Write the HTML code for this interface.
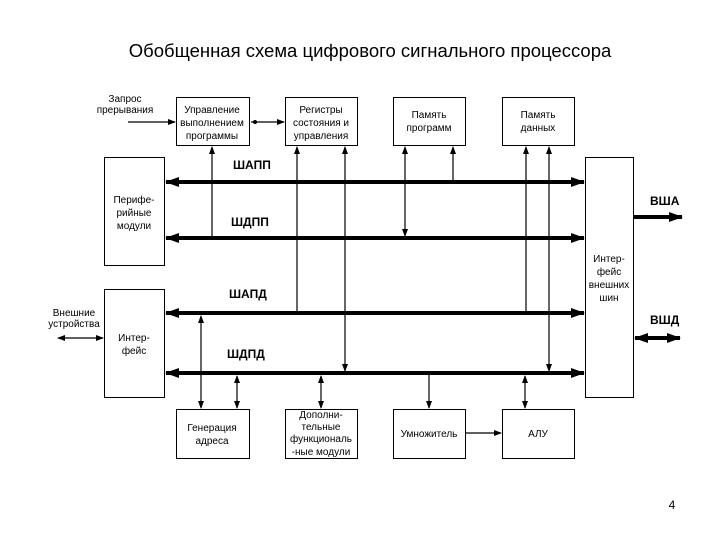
<!DOCTYPE html>
<html><head><meta charset="utf-8"><style>
body{margin:0;background:#fff;}
svg text{font-family:"Liberation Sans",sans-serif;fill:#000;}
</style></head><body>
<svg width="720" height="540" viewBox="0 0 720 540" xmlns="http://www.w3.org/2000/svg">
<defs>
<marker id="a" markerWidth="8" markerHeight="6" refX="7" refY="3" orient="auto-start-reverse" markerUnits="userSpaceOnUse"><path d="M0,0L8,3L0,6z"/></marker>
<marker id="b" markerWidth="14" markerHeight="10" refX="13" refY="5" orient="auto-start-reverse" markerUnits="userSpaceOnUse"><path d="M0,0L14,5L0,10z"/></marker>
</defs>
<text x="370" y="57" font-size="18.5" text-anchor="middle">Обобщенная схема цифрового сигнального процессора</text>
<g fill="none" stroke="#000" stroke-width="1">
<rect x="176.5" y="97.5" width="73" height="48"/>
<rect x="285.5" y="97.5" width="72" height="48"/>
<rect x="393.5" y="97.5" width="72" height="48"/>
<rect x="502.5" y="97.5" width="72" height="48"/>
<rect x="104.5" y="157.5" width="60" height="108"/>
<rect x="104.5" y="289.5" width="60" height="108"/>
<rect x="585.5" y="157.5" width="48" height="240"/>
<rect x="176.5" y="409.5" width="73" height="49"/>
<rect x="285.5" y="409.5" width="72" height="49"/>
<rect x="393.5" y="409.5" width="72" height="49"/>
<rect x="502.5" y="409.5" width="72" height="49"/>
</g>
<g stroke="#000" stroke-width="4" marker-start="url(#b)" marker-end="url(#b)">
<line x1="166" y1="182" x2="584" y2="182"/>
<line x1="166" y1="238" x2="584" y2="238"/>
<line x1="166" y1="313" x2="584" y2="313"/>
<line x1="166" y1="373" x2="584" y2="373"/>
<line x1="635" y1="338" x2="680" y2="338"/>
</g>
<line x1="634" y1="217" x2="682" y2="217" stroke="#000" stroke-width="4" marker-end="url(#b)"/>
<g stroke="#000" stroke-width="1.2">
<line x1="212" y1="238" x2="212" y2="147" marker-end="url(#a)"/>
<line x1="297" y1="313" x2="297" y2="147" marker-end="url(#a)"/>
<line x1="345" y1="147" x2="345" y2="371" marker-start="url(#a)" marker-end="url(#a)"/>
<line x1="405" y1="147" x2="405" y2="236" marker-start="url(#a)" marker-end="url(#a)"/>
<line x1="453" y1="182" x2="453" y2="147" marker-end="url(#a)"/>
<line x1="526" y1="313" x2="526" y2="147" marker-end="url(#a)"/>
<line x1="549" y1="147" x2="549" y2="371" marker-start="url(#a)" marker-end="url(#a)"/>
<line x1="201" y1="316" x2="201" y2="408" marker-start="url(#a)" marker-end="url(#a)"/>
<line x1="237" y1="376" x2="237" y2="408" marker-start="url(#a)" marker-end="url(#a)"/>
<line x1="321" y1="376" x2="321" y2="408" marker-start="url(#a)" marker-end="url(#a)"/>
<line x1="429" y1="373" x2="429" y2="408" marker-end="url(#a)"/>
<line x1="525" y1="376" x2="525" y2="408" marker-start="url(#a)" marker-end="url(#a)"/>
<line x1="466" y1="433" x2="501" y2="433" marker-end="url(#a)"/>
<line x1="128" y1="122" x2="175" y2="122" marker-end="url(#a)"/>
<line x1="251" y1="122" x2="284" y2="122" marker-end="url(#a)"/>
<line x1="58" y1="338" x2="103" y2="338" marker-start="url(#a)" marker-end="url(#a)"/>
</g>
<circle cx="255" cy="122" r="2"/>
<g font-size="10" text-anchor="middle">
<text x="125" y="102">Запрос</text><text x="125" y="113">прерывания</text>
<text x="212" y="113">Управление</text><text x="212" y="126">выполнением</text><text x="212" y="139">программы</text>
<text x="321" y="113">Регистры</text><text x="321" y="126">состояния и</text><text x="321" y="139">управления</text>
<text x="429" y="118">Память</text><text x="429" y="131">программ</text>
<text x="538" y="118">Память</text><text x="538" y="131">данных</text>
<text x="134" y="203">Перифе-</text><text x="134" y="216">рийные</text><text x="134" y="229">модули</text>
<text x="134" y="341">Интер-</text><text x="134" y="354">фейс</text>
<text x="74" y="316">Внешние</text><text x="74" y="327">устройства</text>
<text x="609" y="262">Интер-</text><text x="609" y="275">фейс</text><text x="609" y="288">внешних</text><text x="609" y="301">шин</text>
<text x="212" y="431">Генерация</text><text x="212" y="444">адреса</text>
<text x="321" y="418">Дополни-</text><text x="321" y="430">тельные</text><text x="321" y="442">функциональ</text><text x="321" y="455">-ные модули</text>
<text x="429" y="437">Умножитель</text>
<text x="538" y="437">АЛУ</text>
</g>
<g font-size="12" font-weight="bold">
<text x="233" y="169">ШАПП</text>
<text x="231" y="226">ШДПП</text>
<text x="229" y="298">ШАПД</text>
<text x="227" y="358">ШДПД</text>
<text x="650" y="205">ВША</text>
<text x="650" y="324">ВШД</text>
</g>
<text x="672" y="509" font-size="12" text-anchor="middle">4</text>
</svg>
</body></html>
